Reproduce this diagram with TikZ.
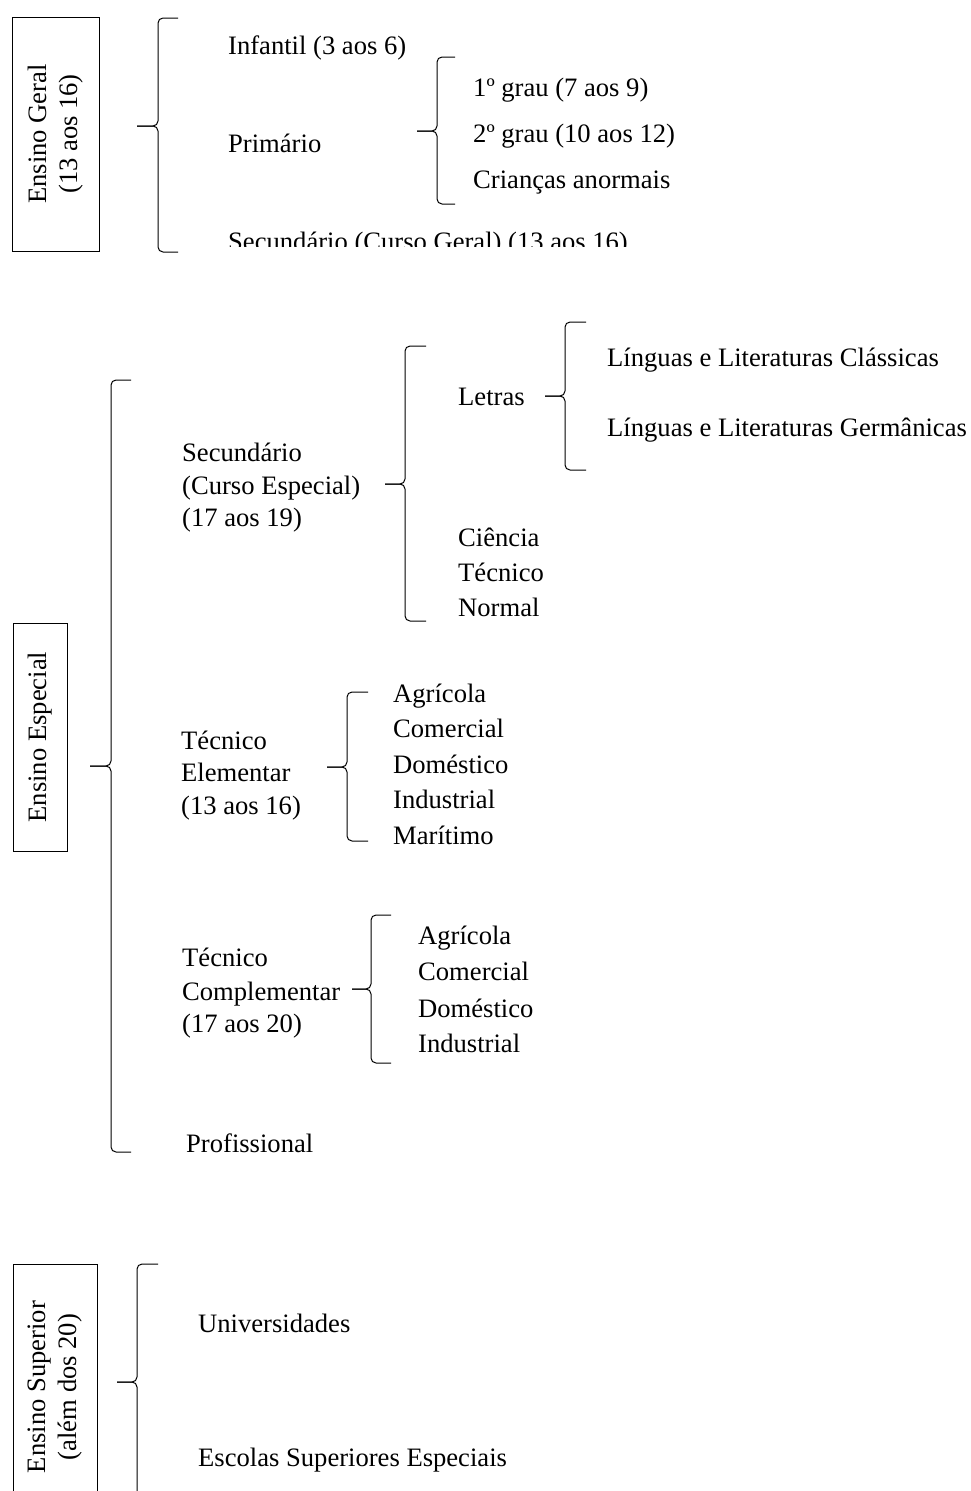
\documentclass[tikz,border=0pt]{standalone}
\usepackage{fontspec}
\setmainfont{Liberation Serif}
\usepackage{tikz}
\usetikzlibrary{calc}
\tikzstyle{rotulo} = [anchor=base west, inner sep=0pt]
\tikzstyle{caixa} = [draw, rotate=90, align=center, inner sep=0pt, line width=1pt]
\tikzstyle{chave} = [line width=1pt, rounded corners=5pt]
% chave: ponta, haste, extremos (x) ; topo, meio, base (y)
\newcommand{\chave}[6]{%
  \draw[chave] (#3,#4) -- (#2,#4) -- (#2,#5) -- (#1,#5);
  \draw[chave] (#1,#5) -- (#2,#5) -- (#2,#6) -- (#3,#6);}

\begin{document}
\begin{tikzpicture}[x=1pt, y=-1pt, font=\fontsize{26.6}{31.5}\selectfont]
		\useasboundingbox (0,0) rectangle (970,1491);
		
		% ENSINO GERAL
		
		\node [caixa, minimum width=234, minimum height=87] (geral) at (55.5,134) {Ensino Geral\\(13 aos 16)};
		\chave{137}{158}{178}{18}{126}{252}
		\node [rotulo] (infantil) at (228,54) {Infantil (3 aos 6)};
		\node [rotulo] (primario) at (228,152) {Primário};
		\chave{417}{437}{455}{57}{131}{204}
		\node [rotulo] (grau1) at (473,96) {1º grau (7 aos 9)};
		\node [rotulo] (grau2) at (473,142) {2º grau (10 aos 12)};
		\node [rotulo] (anormais) at (473,188) {Crianças anormais};
		\begin{scope}
			\clip (200,200) rectangle (700,246.5);
			\node [rotulo] (secgeral) at (228,250) {Secundário (Curso Geral) (13 aos 16)};
		\end{scope}
		
		% ENSINO ESPECIAL
		
		\node [caixa, minimum width=228, minimum height=54] (especial) at (40,737) {Ensino Especial};
		\chave{90}{111}{131}{380}{766}{1152}
		\node [rotulo] (secesp1) at (182,461) {Secundário};
		\node [rotulo] (secesp2) at (182,494) {(Curso Especial)};
		\node [rotulo] (secesp3) at (182,526) {(17 aos 19)};
		\chave{385}{405}{426}{346}{484}{621}
		\node [rotulo] (letras) at (458,405) {Letras};
		\chave{545}{565}{586}{322}{396}{470}
		\node [rotulo] (classicas) at (607,366) {Línguas e Literaturas Clássicas};
		\node [rotulo] (germanicas) at (607,436) {Línguas e Literaturas Germânicas};
		\node [rotulo] (ciencia) at (458,546) {Ciência};
		\node [rotulo] (tecnico) at (458,581) {Técnico};
		\node [rotulo] (normal) at (458,616) {Normal};
		
		\node [rotulo] (elem1) at (181,749) {Técnico};
		\node [rotulo] (elem2) at (181,781) {Elementar};
		\node [rotulo] (elem3) at (181,814) {(13 aos 16)};
		\chave{327}{347}{368}{692}{767}{841}
		\node [rotulo] (agr1) at (393,702) {Agrícola};
		\node [rotulo] (com1) at (393,737) {Comercial};
		\node [rotulo] (dom1) at (393,773) {Doméstico};
		\node [rotulo] (ind1) at (393,808) {Industrial};
		\node [rotulo] (mar1) at (393,844) {Marítimo};
		
		\node [rotulo] (comp1) at (182,966) {Técnico};
		\node [rotulo] (comp2) at (182,1000) {Complementar};
		\node [rotulo] (comp3) at (182,1032) {(17 aos 20)};
		\chave{352}{371}{391}{915}{989}{1063}
		\node [rotulo] (agr2) at (418,944) {Agrícola};
		\node [rotulo] (com2) at (418,980) {Comercial};
		\node [rotulo] (dom2) at (418,1017) {Doméstico};
		\node [rotulo] (ind2) at (418,1052) {Industrial};
		
		\node [rotulo] (profissional) at (186,1152) {Profissional};
		
		% ENSINO SUPERIOR
		
		\node [caixa, minimum width=246, minimum height=84] (superior) at (55,1387) {Ensino Superior\\(além dos 20)};
		\chave{117}{137}{158}{1264}{1382}{1520}
		\node [rotulo] (univ) at (198,1332) {Universidades};
		\node [rotulo] (escolas) at (198,1466) {Escolas Superiores Especiais};
		
\end{tikzpicture}
\end{document}
